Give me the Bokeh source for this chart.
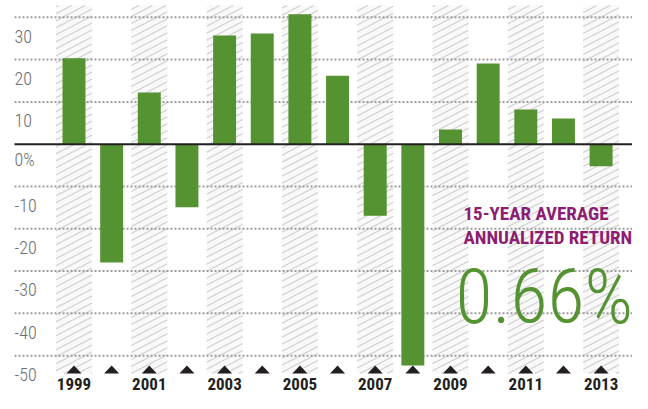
from bokeh.plotting import figure
from bokeh.models import Range1d
from bokeh.core.properties import value
from bokeh.embed import file_html
from bokeh.resources import INLINE

# ---- data ----
years = [1999, 2000, 2001, 2002, 2003, 2004, 2005, 2006, 2007, 2008, 2009, 2010, 2011, 2012, 2013]
returns = [20.3, -28.0, 12.2, -14.9, 25.7, 26.2, 30.7, 16.2, -16.9, -52.3, 3.5, 19.1, 8.2, 6.1, -5.2]
labelled_years = [1999, 2001, 2003, 2005, 2007, 2009, 2011, 2013]
shaded_years = [1999, 2001, 2003, 2005, 2007, 2009, 2011, 2013]
y_ticks = [30, 20, 10, 0, -10, -20, -30, -40, -50]
y_tick_labels = ["30", "20", "10", "0%", "-10", "-20", "-30", "-40", "-50"]
headline = ["15-YEAR AVERAGE", "ANNUALIZED RETURN"]
average_return = ["0.66%"]

GREEN = "#559232"
PURPLE = "#8c1d71"
DARK = "#231f20"
GREY_TEXT = "#6d6e71"

W, H = 632, 393
X0, X1 = 1997.048, 2013.834
Y0, Y1 = -58.95, 33.98
SHADE_TOP = 32.8
SHADE_BOTTOM = -54.22
SHADE_HALF = 0.478

SX = W / (X1 - X0)
SY = H / (Y1 - Y0)


def to_px(x, y):
    return (x - X0) * SX, (Y1 - y) * SY


def to_data(px, py):
    return X0 + px / SX, Y1 - py / SY


# diagonal hatch lines inside the shaded columns (decoration)
hx0, hy0, hx1, hy1 = [], [], [], []
SLOPE, STEP = 0.52, 7.0
for yr in shaded_years:
    xl, yt = to_px(yr - SHADE_HALF, SHADE_TOP)
    xr, yb = to_px(yr + SHADE_HALF, SHADE_BOTTOM)
    k = int((yt + SLOPE * xl) // STEP) - 1
    while k * STEP <= yb + SLOPE * xr + STEP:
        c = k * STEP
        k += 1
        xs, ys = xl, c - SLOPE * xl
        if ys > yb:
            xs, ys = (c - yb) / SLOPE, yb
        xe, ye = xr, c - SLOPE * xr
        if ye < yt:
            xe, ye = (c - yt) / SLOPE, yt
        if xs >= xe or ys < yt or ye > yb:
            continue
        a = to_data(xs, ys)
        b = to_data(xe, ye)
        hx0.append(a[0]); hy0.append(a[1]); hx1.append(b[0]); hy1.append(b[1])

p = figure(width=W, height=H, x_range=Range1d(X0, X1), y_range=Range1d(Y0, Y1),
           output_backend="svg", toolbar_location=None,
           x_axis_location=None, y_axis_location=None,
           min_border=0, outline_line_color=None,
           background_fill_color="white", border_fill_color="white")
p.grid.visible = False

# shaded columns for odd years
p.vbar(x=shaded_years, width=2 * SHADE_HALF, top=SHADE_TOP, bottom=SHADE_BOTTOM,
       fill_color="#f9f9f9", line_color=None)
p.segment(x0=hx0, y0=hy0, x1=hx1, y1=hy1, line_color="#cfcfcf", line_width=1.1)

# dotted grid lines
grid_vals = [t for t in y_ticks if t != 0]
p.segment(x0=1997.42, x1=X1, y0=grid_vals, y1=grid_vals,
          line_color="#9d9d9d", line_width=2, line_dash="2 2")

# bars
p.vbar(x=years, top=returns, bottom=0, width=0.61, fill_color=GREEN, line_color=None)

# zero line
p.segment(x0=1997.42, x1=X1, y0=0, y1=0, line_color=DARK, line_width=2)

# triangles at the bottom of each year
p.patches(xs=[[y - 0.2, y, y + 0.2] for y in years],
          ys=[[SHADE_BOTTOM, SHADE_BOTTOM + 1.9, SHADE_BOTTOM] for _ in years],
          fill_color=DARK, line_color=None)

# y tick labels (sit below their grid lines)
p.text(x=1997.42, y=y_ticks, text=y_tick_labels,
       text_font=value("Roboto Condensed Light"), text_font_size="18px",
       text_color=GREY_TEXT, text_align="left", text_baseline="bottom", y_offset=25.4)

# year labels
p.text(x=labelled_years, y=Y0, text=[str(y) for y in labelled_years],
       text_font=value("Roboto Condensed"), text_font_style="bold", text_font_size="17px",
       text_color=DARK, text_align="center", text_baseline="bottom", y_offset=-4)

# headline
p.text(x=2009.345, y=[-18.04, -23.72], text=headline,
       text_font=value("Roboto Condensed"), text_font_style="bold", text_font_size="19px",
       text_color=PURPLE, text_align="left", text_baseline="bottom", y_offset=4.6)

p.text(x=2009.133, y=-46.77, text=average_return,
       text_font=value("Roboto Condensed Light"), text_font_size="76px",
       text_color=GREEN, text_align="left", text_baseline="bottom")

open("out.html", "w").write(file_html(p, INLINE))
